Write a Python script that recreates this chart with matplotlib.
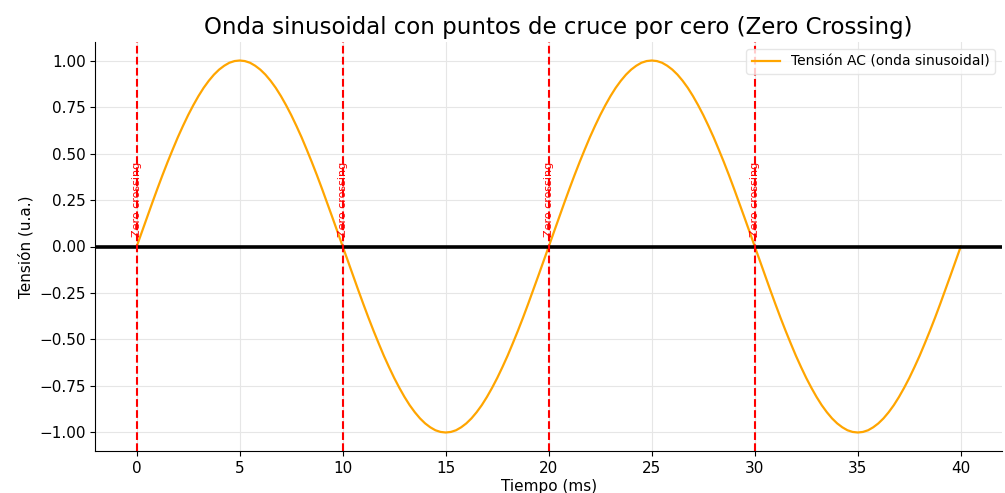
import matplotlib.pyplot as plt
import numpy as np

# tiempo en ms (paso de 0.25 ms) y tension
tiempo = np.arange(0, 40.25, 0.25)
tension = [
    0.000, 0.078, 0.156, 0.233, 0.309, 0.383, 0.454, 0.522, 0.588, 0.649,
    0.707, 0.760, 0.809, 0.853, 0.891, 0.924, 0.951, 0.972, 0.988, 0.997,
    1.000, 0.997, 0.988, 0.972, 0.951, 0.924, 0.891, 0.853, 0.809, 0.760,
    0.707, 0.649, 0.588, 0.522, 0.454, 0.383, 0.309, 0.233, 0.156, 0.078,
    0.000, -0.078, -0.156, -0.233, -0.309, -0.383, -0.454, -0.522, -0.588, -0.649,
    -0.707, -0.760, -0.809, -0.853, -0.891, -0.924, -0.951, -0.972, -0.988, -0.997,
    -1.000, -0.997, -0.988, -0.972, -0.951, -0.924, -0.891, -0.853, -0.809, -0.760,
    -0.707, -0.649, -0.588, -0.522, -0.454, -0.383, -0.309, -0.233, -0.156, -0.078,
    0.000, 0.078, 0.156, 0.233, 0.309, 0.383, 0.454, 0.522, 0.588, 0.649,
    0.707, 0.760, 0.809, 0.853, 0.891, 0.924, 0.951, 0.972, 0.988, 0.997,
    1.000, 0.997, 0.988, 0.972, 0.951, 0.924, 0.891, 0.853, 0.809, 0.760,
    0.707, 0.649, 0.588, 0.522, 0.454, 0.383, 0.309, 0.233, 0.156, 0.078,
    0.000, -0.078, -0.156, -0.233, -0.309, -0.383, -0.454, -0.522, -0.588, -0.649,
    -0.707, -0.760, -0.809, -0.853, -0.891, -0.924, -0.951, -0.972, -0.988, -0.997,
    -1.000, -0.997, -0.988, -0.972, -0.951, -0.924, -0.891, -0.853, -0.809, -0.760,
    -0.707, -0.649, -0.588, -0.522, -0.454, -0.383, -0.309, -0.233, -0.156, -0.078,
    0.000,
]
cruces = [0, 10, 20, 30]

fig, ax = plt.subplots(figsize=(10.05, 4.93), dpi=100)
fig.subplots_adjust(left=0.095, right=0.997, top=0.915, bottom=0.085)

ax.plot(tiempo, tension, color='orange', linewidth=1.6, label='Tensión AC (onda sinusoidal)')
ax.axhline(0, color='black', linewidth=2.6)
for c in cruces:
    ax.axvline(c, color='red', linestyle='--', linewidth=1.5)
    ax.text(c, 0.05, 'Zero crossing', rotation=90, color='red', fontsize=8,
            ha='center', va='bottom')

ax.set_title('Onda sinusoidal con puntos de cruce por cero (Zero Crossing)', fontsize=16.5, x=0.51)
ax.set_xlabel('Tiempo (ms)', fontsize=11, labelpad=2)
ax.set_ylabel('Tensión (u.a.)', fontsize=11)
ax.tick_params(labelsize=11)
ax.spines['top'].set_visible(False)
ax.spines['right'].set_visible(False)
ax.grid(True, color='#e6e6e6', linewidth=0.8)
ax.legend(loc='upper right', fontsize=10, edgecolor='#e0e0e0')

plt.savefig('out.png', dpi=100)
